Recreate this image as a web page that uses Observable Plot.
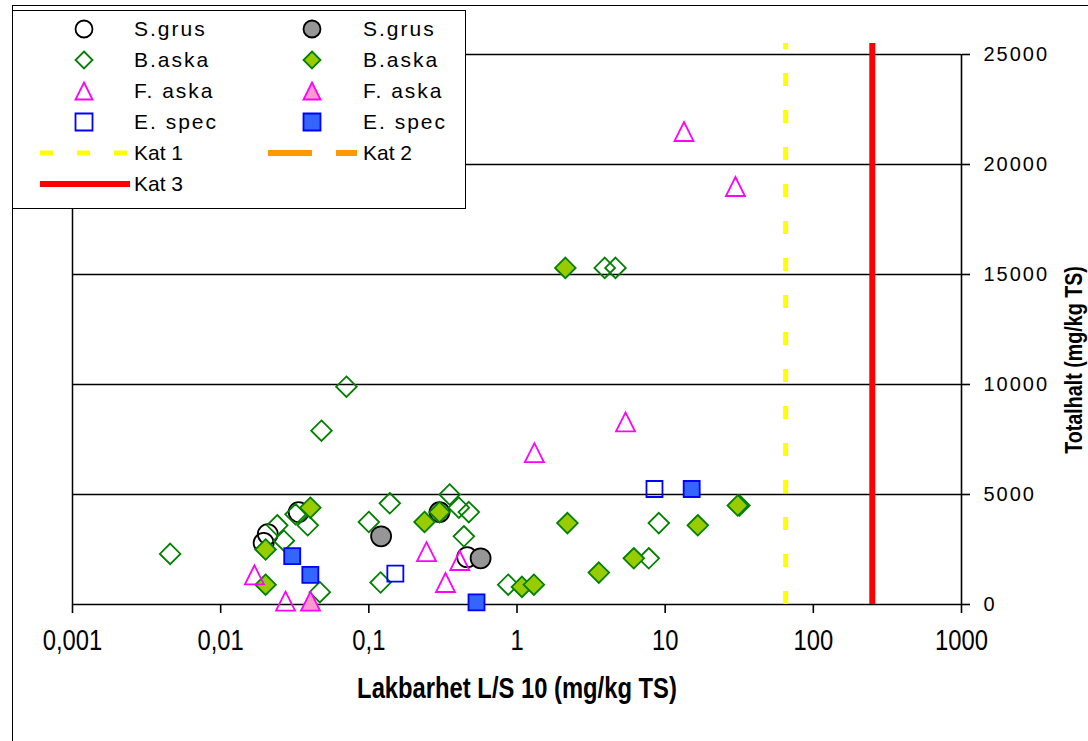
<!DOCTYPE html>
<html><head><meta charset="utf-8">
<script src="https://cdn.jsdelivr.net/npm/d3@7"></script>
<script src="https://cdn.jsdelivr.net/npm/@observablehq/plot@0.6"></script>
<style>
html,body{margin:0;padding:0;background:#fff;overflow:hidden;width:1088px;height:741px;}
body{position:relative;font-family:"Liberation Sans",Arial,sans-serif;color:#000;}
#chart{position:absolute;left:0;top:0;}
#chart svg{background:transparent;}
#frame{position:absolute;left:12px;top:5px;width:2000px;height:2000px;border-left:1.5px solid #000;border-top:1.5px solid #000;pointer-events:none;}
#legend{position:absolute;left:12px;top:10px;width:454px;height:199px;border:1.5px solid #000;background:#fff;box-sizing:border-box;}
.lgi{position:absolute;height:28px;line-height:28px;font-size:21px;white-space:nowrap;}
.lgi.sp{letter-spacing:2px;}
.lgi svg{position:absolute;top:0;left:0;}
.xtitle{position:absolute;left:217px;width:600px;top:671px;line-height:34px;text-align:center;font-weight:bold;font-size:29px;transform:scaleX(0.82);transform-origin:50% 50%;}
.ytitle{position:absolute;left:1074px;top:360px;width:0;height:0;}
.ytitle span{position:absolute;left:0;top:0;transform:translate(-50%,-50%) rotate(-90deg) scaleX(0.82);font-weight:bold;font-size:24px;white-space:nowrap;display:block;}
g[aria-label="y-axis tick label"] text{letter-spacing:2px;}
</style></head>
<body>
<div id="chart"></div>
<div id="frame"></div>
<div id="legend"></div>
<div class="xtitle">Lakbarhet L/S 10 (mg/kg TS)</div>
<div class="ytitle"><span>Totalhalt (mg/kg TS)</span></div>
<script>
// ---- data ----
const xTicks = [0.001, 0.01, 0.1, 1, 10, 100, 1000];
const yTicks = [0, 5000, 10000, 15000, 20000, 25000];

const sGrusOpenX = [0.0208, 0.0195, 0.0336, 0.461];
const sGrusOpenY = [3200, 2800, 4200, 2150];
const sGrusFillX = [0.121, 0.300, 0.568];
const sGrusFillY = [3100, 4200, 2100];
const bAskaOpenX = [0.00456, 0.0241, 0.0267, 0.032, 0.0387, 0.0467, 0.0479, 0.0706, 0.100, 0.1385, 0.120, 0.351, 0.405, 0.473, 0.438, 0.872, 3.91, 4.62, 9.06, 7.75, 31.7];
const bAskaOpenY = [2300, 3600, 2900, 4100, 3600, 560, 7900, 9900, 3750, 4600, 1000, 5000, 4400, 4200, 3100, 900, 15300, 15300, 3700, 2100, 4500];
const bAskaFillX = [0.0403, 0.0201, 0.0201, 0.2375, 0.300, 1.08, 1.30, 2.12, 2.19, 3.565, 6.14, 16.6, 30.9];
const bAskaFillY = [4400, 2500, 900, 3750, 4200, 800, 900, 15300, 3700, 1450, 2100, 3600, 4500];
const fAskaOpenX = [0.0169, 0.0274, 0.245, 0.411, 0.329, 1.31, 5.40, 13.4, 29.8];
const fAskaOpenY = [1350, 150, 2400, 2000, 1000, 6900, 8300, 21500, 19000];
const fAskaFillX = [0.0404];
const fAskaFillY = [150];
const eSpecOpenX = [0.151, 8.47];
const eSpecOpenY = [1400, 5250];
const eSpecFillX = [0.0304, 0.0403, 0.533, 15.1];
const eSpecFillY = [2200, 1350, 100, 5250];
const kat1X = [65];
const kat3X = [250];
const katY = [0, 25500];

// ---- marker shapes (Excel style) ----
const circ = {draw(c, s){const r = Math.sqrt(s/Math.PI); c.moveTo(r,0); c.arc(0,0,r,0,2*Math.PI); c.closePath();}};
const dia  = {draw(c, s){const r = Math.sqrt(s/Math.PI); c.moveTo(0,-r); c.lineTo(r,0); c.lineTo(0,r); c.lineTo(-r,0); c.closePath();}};
const tri  = {draw(c, s){const r = Math.sqrt(s/Math.PI); c.moveTo(0,-r); c.lineTo(r,r); c.lineTo(-r,r); c.closePath();}};
const sq   = {draw(c, s){const r = Math.sqrt(s/Math.PI); c.rect(-r,-r,2*r,2*r);}};

const series = [
  {name:"S.grus", xs:sGrusOpenX, ys:sGrusOpenY, sym:circ, r:10,  fill:"none",    stroke:"#000000"},
  {name:"S.grus", xs:sGrusFillX, ys:sGrusFillY, sym:circ, r:10,  fill:"#969696", stroke:"#000000"},
  {name:"B.aska", xs:bAskaOpenX, ys:bAskaOpenY, sym:dia,  r:10.3,fill:"none",    stroke:"#008000"},
  {name:"B.aska", xs:bAskaFillX, ys:bAskaFillY, sym:dia,  r:10.3,fill:"#99CC00", stroke:"#008000"},
  {name:"F. aska",xs:fAskaOpenX, ys:fAskaOpenY, sym:tri,  r:9.5, fill:"none",    stroke:"#FF00FF"},
  {name:"F. aska",xs:fAskaFillX, ys:fAskaFillY, sym:tri,  r:9.5, fill:"#FF99CC", stroke:"#FF00FF"},
  {name:"E. spec",xs:eSpecOpenX, ys:eSpecOpenY, sym:sq,   r:8,   fill:"none",    stroke:"#0000FF"},
  {name:"E. spec",xs:eSpecFillX, ys:eSpecFillY, sym:sq,   r:8,   fill:"#3366FF", stroke:"#0000FF"}
];
const kats = [
  {name:"Kat 1", xs:kat1X, stroke:"#FFFF00", width:5, dash:"13,24"},
  {name:"Kat 2", xs:[],    stroke:"#FF9900", width:6, dash:"44,24"},
  {name:"Kat 3", xs:kat3X, stroke:"#FF0000", width:6, dash:null}
];

const fmt = d => String(d).replace(".", ",");
const xMin = xTicks[0], xMax = xTicks[xTicks.length-1];
const yMax = yTicks[yTicks.length-1];

const marks = [
  Plot.ruleY(yTicks.filter(v => v > 0), {x1: xMin, x2: xMax, stroke:"#000", strokeWidth:1.3}),
  Plot.ruleY([0], {x1: xMin, x2: xMax, stroke:"#000", strokeWidth:1.6}),
  Plot.ruleX([xMin], {y1: 0, y2: yMax, stroke:"#000", strokeWidth:1.5}),
  Plot.ruleX([xMax], {y1: 0, y2: yMax, stroke:"#000", strokeWidth:1.6}),
  Plot.axisX(xTicks, {anchor:"bottom", tickSize:9, tickPadding:16, tickFormat:fmt, fontSize:29, fontFamily:"Liberation Sans, Arial, sans-serif", strokeWidth:1.6, label:null}),
  Plot.axisY(yTicks, {anchor:"right", tickSize:8, tickPadding:14, tickFormat:d => String(d), fontSize:20, fontFamily:"Liberation Sans, Arial, sans-serif", strokeWidth:1.6, label:null}),
  ...series.map(s => Plot.dot(s.xs.map((x, i) => ({x, y: s.ys[i]})), {
    x:"x", y:"y", symbol:s.sym, r:s.r, fill:s.fill, stroke:s.stroke, strokeWidth:1.8
  })),
  ...kats.filter(k => k.xs.length).map(k => Plot.ruleX(k.xs, {
    x: d => d, y1: katY[0], y2: katY[1], stroke:k.stroke, strokeWidth:k.width, strokeDasharray:k.dash
  }))
];

const chart = Plot.plot({
  width:1088, height:741,
  marginLeft:72, marginRight:127, marginTop:54, marginBottom:137,
  x:{type:"log", domain:[xMin, xMax]},
  y:{domain:[0, yMax]},
  style:{background:"transparent", color:"#000", overflow:"visible"},
  marks
});
document.getElementById("chart").appendChild(chart);
// condense x tick labels (narrow face, as in the original)
chart.querySelectorAll('g[aria-label="x-axis tick label"] text').forEach(t => {
  const w = t.getComputedTextLength();
  t.setAttribute("textLength", (w * 0.82).toFixed(1));
  t.setAttribute("lengthAdjust", "spacingAndGlyphs");
});

// ---- legend ----
const lg = document.getElementById("legend");
const rowTop = [14, 45, 76, 107, 138, 169].map(v => v - 10);
const colIcon = [27, 255];
const colText = [121, 350];
function iconSvg(s){
  const p = d3.path(); s.sym.draw(p, 8.5*8.5*Math.PI);
  return `<svg width="90" height="28"><path transform="translate(44,14)" d="${p}" fill="${s.fill}" stroke="${s.stroke}" stroke-width="1.8"/></svg>`;
}
function katSvg(k){
  return `<svg width="90" height="28"><line x1="0" x2="89" y1="14" y2="14" stroke="${k.stroke}" stroke-width="${k.width}" ${k.dash ? `stroke-dasharray="${k.dash}"` : 'stroke-linecap="round"'} /></svg>`;
}
const items = [...series.map(s => ({label:s.name, html:iconSvg(s), sp:true})), ...kats.map(k => ({label:k.name, html:katSvg(k), sp:false}))];
items.forEach((it, i) => {
  const row = Math.floor(i/2), col = i % 2;
  const a = document.createElement("div");
  a.className = "lgi"; a.style.left = colIcon[col] + "px"; a.style.top = rowTop[row] + "px";
  a.innerHTML = it.html; lg.appendChild(a);
  const t = document.createElement("div");
  t.className = it.sp ? "lgi sp" : "lgi"; t.style.left = colText[col] + "px"; t.style.top = rowTop[row] + "px";
  t.textContent = it.label; lg.appendChild(t);
});
</script>
</body></html>
